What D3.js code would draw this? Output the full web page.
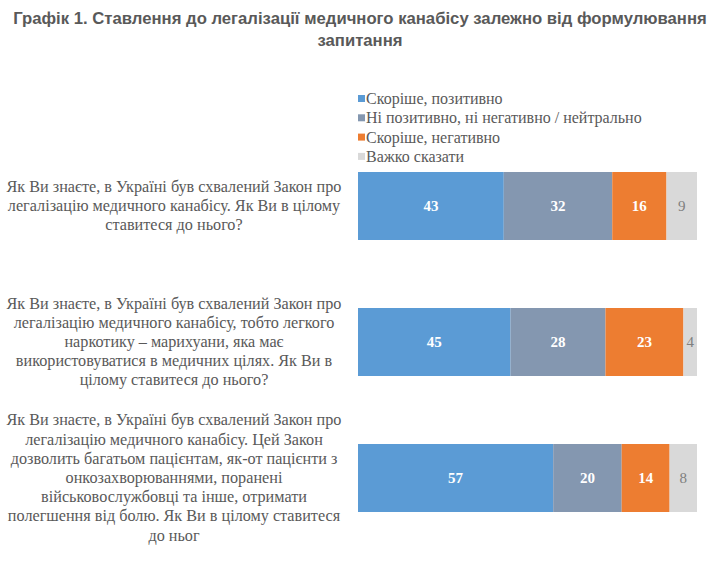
<!DOCTYPE html>
<html><head><meta charset="utf-8">
<script src="https://cdn.jsdelivr.net/npm/d3@7"></script>
<style>body{margin:0;background:#fff}svg{display:block}</style>
</head><body>
<script>
const title = ["Графік 1. Ставлення до легалізації медичного канабісу залежно від формулювання", "запитання"];
const categories = [
  ["Як Ви знаєте, в Україні був схвалений Закон про", "легалізацію медичного канабісу. Як Ви в цілому", "ставитеся до нього?"],
  ["Як Ви знаєте, в Україні був схвалений Закон про", "легалізацію медичного канабісу, тобто легкого", "наркотику – марихуани, яка має", "використовуватися в медичних цілях. Як Ви в", "цілому ставитеся до нього?"],
  ["Як Ви знаєте, в Україні був схвалений Закон про", "легалізацію медичного канабісу. Цей Закон", "дозволить багатьом пацієнтам, як-от пацієнти з", "онкозахворюваннями, поранені", "військовослужбовці та інше, отримати", "полегшення від болю. Як Ви в цілому ставитеся", "до ньог"]
];
const seriesNames = ["Скоріше, позитивно", "Ні позитивно, ні негативно / нейтрально", "Скоріше, негативно", "Важко сказати"];
const positive = [43, 45, 57];
const neutral = [32, 28, 20];
const negative = [16, 23, 14];
const hard = [9, 4, 8];
const colors = ["#5b9bd5", "#8497b0", "#ed7d31", "#d9d9d9"];
const labelColors = ["#ffffff", "#ffffff", "#ffffff", "#7f7f7f"];
const SERIF = "'Liberation Serif', 'Times New Roman', serif";

const W = 719, H = 572;
const svg = d3.select("body").append("svg").attr("width", W).attr("height", H);

svg.append("g").selectAll("text").data(title).join("text")
  .attr("x", 360).attr("y", (d, i) => 24 + i * 22)
  .attr("text-anchor", "middle")
  .attr("font-family", "'Liberation Sans', Arial, sans-serif")
  .attr("font-weight", "bold").attr("font-size", 16.7).attr("fill", "#595959")
  .text(d => d);

// legend
const lg = svg.append("g").attr("transform", "translate(358,99)");
seriesNames.forEach((s, i) => {
  lg.append("rect").attr("x", 0).attr("y", i * 19.3 - 4).attr("width", 7).attr("height", 7).attr("fill", colors[i]);
  lg.append("text").attr("x", 8).attr("y", i * 19.3 + 5)
    .style("font-family", SERIF)
    .attr("font-size", 16).attr("fill", "#595959").text(s);
});

const series = [positive, neutral, negative, hard];
const rows = categories.map((c, i) => ({ i, vals: series.map(s => s[i]) }));

const x = d3.scaleLinear().domain([0, 100]).range([358, 697]);
const y = d3.scaleBand().domain(d3.range(categories.length)).range([138, 546]).paddingInner(0.5).paddingOuter(0.25);

rows.forEach(r => {
  const total = d3.sum(r.vals);
  let acc = 0;
  const g = svg.append("g");
  r.vals.forEach((v, k) => {
    const x0 = x(acc / total * 100), x1 = x((acc + v) / total * 100);
    acc += v;
    g.append("rect").attr("x", x0).attr("y", y(r.i)).attr("width", x1 - x0).attr("height", y.bandwidth()).attr("fill", colors[k]);
    g.append("text").attr("x", (x0 + x1) / 2).attr("y", y(r.i) + y.bandwidth() / 2 + 5)
      .attr("text-anchor", "middle")
      .style("font-family", SERIF)
      .attr("font-weight", k < 3 ? "bold" : "normal")
      .attr("font-size", 15).attr("fill", labelColors[k]).text(v);
  });
  const lines = categories[r.i];
  const cy = y(r.i) + y.bandwidth() / 2;
  const lh = 19.2;
  svg.append("g").selectAll("text").data(lines).join("text")
    .attr("x", 174).attr("y", (d, j) => cy + (j - (lines.length - 1) / 2) * lh + 5)
    .attr("text-anchor", "middle")
    .style("font-family", SERIF)
    .attr("font-size", 16.2).attr("fill", "#595959").text(d => d);
});
</script>
</body></html>
